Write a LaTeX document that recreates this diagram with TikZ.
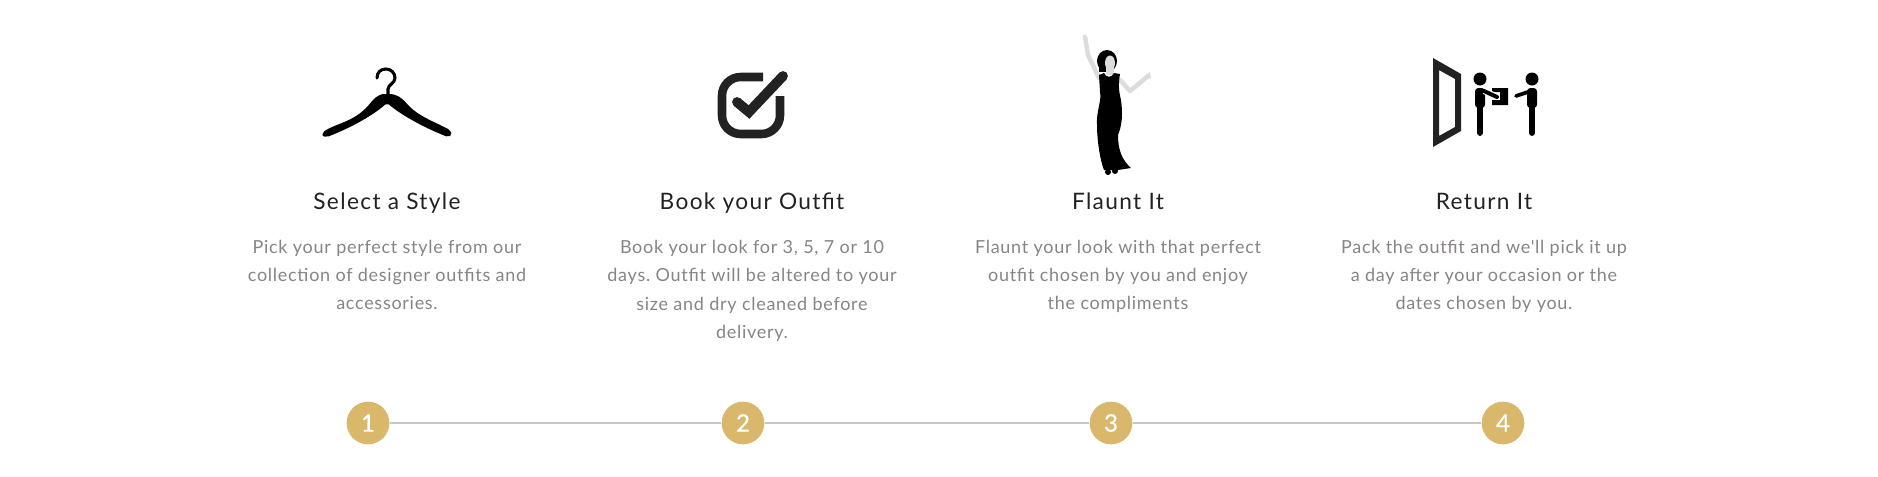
\documentclass[tikz,border=0pt]{standalone}
\usepackage{fontspec}
\setmainfont{Lato}
\newfontfamily\titlefont[LetterSpace=6]{Lato}
\newfontfamily\bodyfont[LetterSpace=4]{Lato}
\newfontfamily\numfont[FakeBold=0.6]{Lato}
\usetikzlibrary{positioning}
\definecolor{StepGold}{HTML}{D9B76B}
\definecolor{StepLine}{HTML}{C8C8C8}
\definecolor{StepText}{HTML}{888483}
\definecolor{StepDark}{HTML}{222222}
\definecolor{StepArm}{HTML}{DCDCDC}
\frenchspacing
\tikzset{
  stepTitle/.style={font=\titlefont\fontsize{17}{18}\selectfont, text=StepDark, anchor=base, inner sep=0pt},
  stepBody/.style={font=\bodyfont\fontsize{13.5}{21.3}\selectfont, text=StepText, align=center, anchor=north, inner sep=0pt},
  stepNum/.style={circle, fill=StepGold, minimum size=32pt, inner sep=0pt, text=white,
    font=\numfont\fontsize{18}{18}\selectfont},
  stepLine/.style={draw=StepLine, line width=1.4pt},
  iconLine/.style={draw=StepDark, line width=6.4pt},
  armLine/.style={draw=StepArm, line width=3.4pt, line cap=round, line join=round},
  limbLine/.style={draw=black, line width=4.4pt, line cap=round},
}

\begin{document}
\begin{tikzpicture}[x=0.75pt, y=-0.75pt]

  \useasboundingbox (0,0) rectangle (1878,476);

  % hanger
  \draw[black, line width=2.3pt, line cap=round] (377,78) .. controls (377,72) and (381,69) .. (386,69)
    .. controls (391,69) and (395,73) .. (395,78) .. controls (395,83) and (388,85) .. (388,89) -- (388,97);
  \fill[black, rounded corners=1.5pt] (323,132) .. controls (335,124) and (352,122) .. (367,107)
    .. controls (373,100) and (377,94) .. (387,94) .. controls (397,94) and (402,98) .. (408,105)
    .. controls (420,117) and (435,122) .. (450,130) -- (452,135) -- (448,137)
    .. controls (430,130) and (405,118) .. (387,103) .. controls (370,118) and (345,130) .. (327,137) -- (322,136) -- cycle;

  % tick box
  \draw[iconLine, rounded corners=14pt] (763,77) -- (722,77) -- (722,134) -- (780,134) -- (780,96);
  \draw[iconLine, line width=7.4pt, line join=miter] (737,102) -- (749,112) -- (783,76);
  \fill[StepDark] (783,76) circle[radius=4.9];
  \fill[StepDark] (737,102) circle[radius=4.9];

  % woman
  \draw[armLine] (1085,37) -- (1088,55) -- (1099,78);
  \draw[armLine] (1120,80) -- (1130,91) -- (1148,76);
  \fill[StepArm] (1146,75) -- (1150,72) -- (1151,79) -- cycle;
  \fill[StepArm] (1083,38) -- (1085,34) -- (1088,39) -- cycle;
  \fill[black] (1107,61) ellipse[x radius=10, y radius=11];
  \fill[black] (1099,62) rectangle (1106,72);
  \fill[StepArm] (1110,63) ellipse[x radius=5, y radius=7.5];
  \fill[StepArm] (1106,68) rectangle (1114,75);
  \fill[black] (1099,75) -- (1104,73) .. controls (1106,78) and (1112,78) .. (1114,73) -- (1120,74)
    .. controls (1118,85) and (1119,92) .. (1121,100) .. controls (1123,115) and (1122,125) .. (1118,135)
    .. controls (1118,150) and (1122,160) .. (1131,168) -- (1118,170) -- (1104,170)
    .. controls (1100,160) and (1097,140) .. (1097,125) .. controls (1096,112) and (1102,100) .. (1100,92) -- cycle;
  \fill[black] (1108,172) ellipse[x radius=3, y radius=3];
  \fill[black] (1115,171) ellipse[x radius=3, y radius=3];

  % door and two people
  \fill[StepDark, even odd rule] (1433,58) -- (1461,74) -- (1461,131) -- (1433,147) -- cycle
    (1439,70) -- (1455,79) -- (1455,127) -- (1439,136) -- cycle;
  \fill[black] (1480,79) circle[radius=6.5];
  \fill[black] (1532,79) circle[radius=6.5];
  \fill[black] (1492,88) -- (1508,88) -- (1508,105) -- (1492,105) -- (1492,100) -- (1500,100) -- (1500,92) -- (1492,92) -- cycle;
  \fill[black, rounded corners=2.5pt] (1475,88) -- (1485,88) -- (1485,108) -- (1475,108) -- cycle;
  \fill[black, rounded corners=2.5pt] (1537,88) -- (1527,88) -- (1527,108) -- (1537,108) -- cycle;
  \draw[white, line width=4.6pt] (1484,91) -- (1498,97);
  \draw[black, line width=3pt, line cap=round] (1484,91) -- (1497,97);
  \draw[black, line width=2.8pt, line cap=round] (1528,92) -- (1516,96);
  \draw[limbLine] (1480,105) -- (1480,133);
  \draw[limbLine] (1532,105) -- (1532,133);

  % titles
  \node[stepTitle] (titleA) at (387,209) {Select a Style};
  \node[stepTitle] (titleB) at (752,209) {Book your Outfit};
  \node[stepTitle] (titleC) at (1118,209) {Flaunt It};
  \node[stepTitle] (titleD) at (1484,209) {Return It};

  % texts
  \node[stepBody, below=23pt of titleA.base] (bodyA) {Pick your perfect style from our\\collection of designer outfits and\\accessories.};
  \node[stepBody, below=23pt of titleB.base] (bodyB) {Book your look for 3, 5, 7 or 10\\days. Outfit will be altered to your\\size and dry cleaned before\\delivery.};
  \node[stepBody, below=23pt of titleC.base] (bodyC) {Flaunt your look with that perfect\\outfit chosen by you and enjoy\\the compliments};
  \node[stepBody, below=23pt of titleD.base] (bodyD) {Pack the outfit and we'll pick it up\\a day after your occasion or the\\dates chosen by you.};

  % numbers
  \node[stepNum] (numA) at (368,423) {1};
  \node[stepNum] (numB) at (743,423) {2};
  \node[stepNum] (numC) at (1111,423) {3};
  \node[stepNum] (numD) at (1503,423) {4};
  \draw[stepLine] (numA) -- (numB);
  \draw[stepLine] (numB) -- (numC);
  \draw[stepLine] (numC) -- (numD);

\end{tikzpicture}
\end{document}
